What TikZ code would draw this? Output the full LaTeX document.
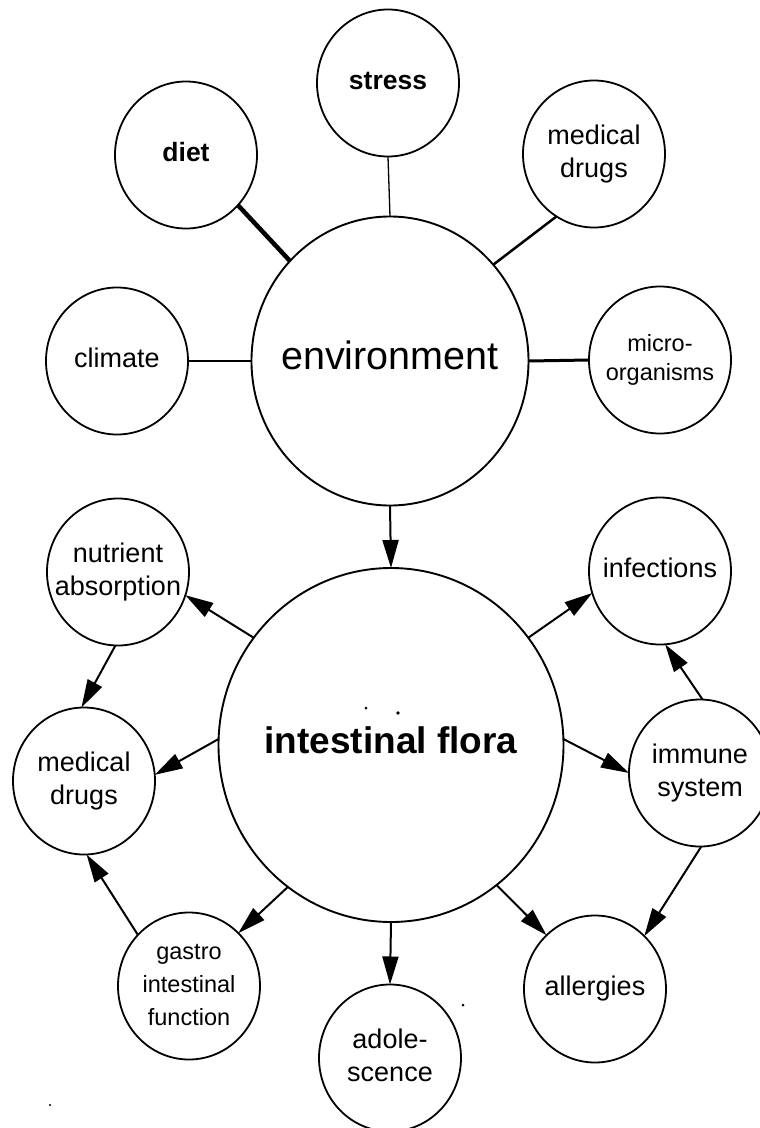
\documentclass[tikz,border=0pt]{standalone}
\usepackage{fontspec}
\setmainfont{Liberation Sans}
\usetikzlibrary{shapes.geometric,arrows.meta}
\newcommand\lbl[1]{\makebox[0pt]{\begin{tabular}{@{}c@{}}#1\end{tabular}}}
\begin{document}
\begin{tikzpicture}[x=1pt,y=-1pt,
  bub/.style={draw, ellipse, line width=1.8pt, inner sep=0pt, outer sep=0pt,
    minimum width=142pt, minimum height=147pt, font=\fontsize{27}{33}\selectfont},
  smallfont/.style={font=\fontsize{23.5}{29}\selectfont},
  gasfont/.style={font=\fontsize{23.5}{33}\selectfont},
  boldfont/.style={font=\fontsize{26.5}{33}\selectfont\bfseries},
  bigbub/.style={draw, ellipse, line width=1.9pt, inner sep=0pt, outer sep=0pt},
  link/.style={line width=1.5pt},
  arr/.style={line width=2pt, -{Triangle[length=28pt,width=16pt]}}]
\useasboundingbox (0,0) rectangle (760,1128);

% upper group
\node[bigbub, minimum width=277pt, minimum height=289pt, font=\fontsize{39.5}{44}\selectfont] (env) at (390,361) {\lbl{environment}};
\node[bub, boldfont] (stress) at (388,83) {\lbl{stress}};
\node[bub, boldfont] (diet) at (186,155) {\lbl{diet}};
\node[bub] (md1) at (594,154) {\lbl{medical\\drugs}};
\node[bub] (climate) at (117,361) {\lbl{climate}};
\node[bub, smallfont] (micro) at (660,360) {\lbl{micro-\\organisms}};

% lower group
\node[bigbub, minimum width=345pt, minimum height=354pt, font=\fontsize{37}{42}\selectfont\bfseries] (flora) at (391,745) {\lbl{intestinal flora}};
\node[bub] (nut) at (118,572) {\lbl{nutrient\\absorption}};
\node[bub] (inf) at (660,571) {\lbl{infections}};
\node[bub] (med2) at (84,781) {\lbl{medical\\drugs}};
\node[bub] (imm) at (700,773) {\lbl{immune\\system}};
\node[bub, gasfont] (gas) at (189,986) {\lbl{gastro\\intestinal\\function}};
\node[bub] (adol) at (390,1058) {\lbl{adole-\\scence}};
\node[bub] (all) at (595,989) {\lbl{allergies}};

% connectors to environment
\draw[line width=1.3pt] (stress.south) -- (env.north);
\draw[line width=4.5pt] (diet.-44) -- (env.135);
\draw[line width=2.5pt] (md1.239) -- (env.43);
\draw[link] (climate.east) -- (env.west);
\draw[line width=3pt] (env.east) -- (micro.west);

% arrows
\draw[arr] (env.south) -- (flora.north);
\draw[arr] (flora.142) -- (nut.-19);
\draw[arr] (nut.268) -- (med2.92);
\draw[arr] (flora.178) -- (med2.5);
\draw[arr] (gas.135) -- (med2.-88);
\draw[arr] (flora.234) -- (gas.47);
\draw[arr] (flora.south) -- (adol.north);
\draw[arr] (flora.307) -- (all.132);
\draw[arr] (flora.38) -- (inf.198);
\draw[arr] (flora.2) -- (imm.180);
\draw[arr] (imm.88) -- (inf.-86);
\draw[arr] (imm.-89) -- (all.47);

% scan specks
\fill (366,708) circle (1.5);
\fill (398,713) circle (1.8);
\fill (463,1005) circle (1.5);
\fill (50,1105) circle (1.2);
\end{tikzpicture}
\end{document}
